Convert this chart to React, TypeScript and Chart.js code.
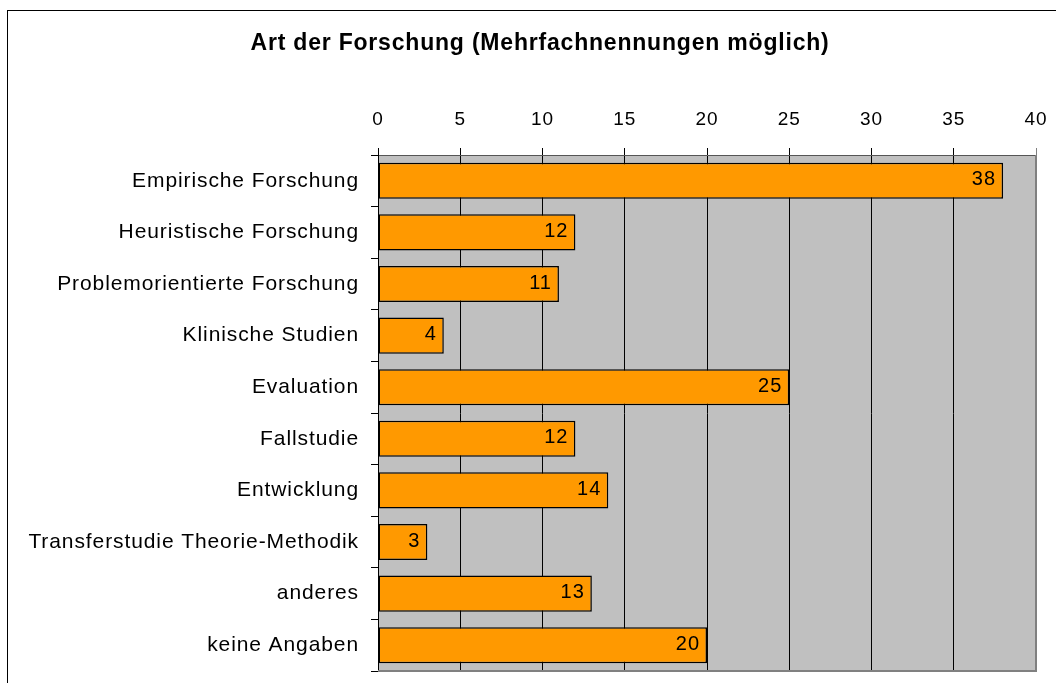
import React, { useEffect, useRef } from "react";
import { Chart, registerables } from "chart.js";

Chart.register(...registerables);

const chartTitle = "Art der Forschung (Mehrfachnennungen möglich)";
const categories = [
  "Empirische Forschung",
  "Heuristische Forschung",
  "Problemorientierte Forschung",
  "Klinische Studien",
  "Evaluation",
  "Fallstudie",
  "Entwicklung",
  "Transferstudie Theorie-Methodik",
  "anderes",
  "keine Angaben",
];
const counts = [38, 12, 11, 4, 25, 12, 14, 3, 13, 20];
const xMin = 0;
const xMax = 40;
const xStep = 5;

const FONT = "'Liberation Sans', Arial, sans-serif";

const plotBg = {
  id: "plotBg",
  beforeDraw(chart: any) {
    const { ctx, chartArea: a } = chart;
    ctx.letterSpacing = "0.9px";
    ctx.save();
    ctx.fillStyle = "#C0C0C0";
    ctx.fillRect(a.left, a.top, a.right - a.left, a.bottom - a.top);
    ctx.restore();
  },
  afterDraw(chart: any) {
    const { ctx, chartArea: a } = chart;
    ctx.save();
    ctx.strokeStyle = "#808080";
    ctx.lineWidth = 2;
    ctx.beginPath();
    ctx.moveTo(a.right, a.top);
    ctx.lineTo(a.right, a.bottom);
    ctx.lineTo(a.left, a.bottom);
    ctx.stroke();
    // title
    ctx.fillStyle = "#000";
    ctx.font = `bold 23px ${FONT}`;
    ctx.letterSpacing = "0.8px";
    ctx.textAlign = "center";
    ctx.textBaseline = "middle";
    ctx.fillText(chartTitle, 540, 44);
    ctx.restore();
  },
  afterDatasetsDraw(chart: any) {
    const { ctx } = chart;
    const meta = chart.getDatasetMeta(0);
    ctx.save();
    ctx.fillStyle = "#000";
    ctx.font = `20px ${FONT}`;
    ctx.letterSpacing = "1px";
    ctx.textAlign = "right";
    ctx.textBaseline = "middle";
    meta.data.forEach((bar: any, i: number) => {
      ctx.fillText(String(counts[i]), bar.x - 7, bar.y - 1);
    });
    ctx.restore();
  },
};

export default function App() {
  const ref = useRef<HTMLCanvasElement>(null);
  useEffect(() => {
    if (!ref.current) return;
    const chart = new Chart(ref.current, {
      type: "bar",
      data: {
        labels: categories,
        datasets: [
          {
            data: counts,
            backgroundColor: "#FF9900",
            borderColor: "#000000",
            borderWidth: 1.5,
            borderSkipped: false,
            categoryPercentage: 1,
            barPercentage: 0.7,
          },
        ],
      },
      options: {
        indexAxis: "y",
        animation: false,
        responsive: false,
        devicePixelRatio: 1,
        layout: { padding: { top: 110, right: 20, bottom: 12, left: 0 } },
        plugins: { legend: { display: false }, title: { display: false }, tooltip: { enabled: false } },
        scales: {
          x: {
            position: "top",
            min: xMin,
            max: xMax,
            ticks: {
              stepSize: xStep,
              color: "#000",
              font: { family: FONT, size: 19 },
              padding: 17,
            },
            grid: {
              color: (c: any) => (c.tick && c.tick.value === xMax ? "#808080" : "#000"),
              lineWidth: 1,
              tickLength: 7,
              drawTicks: true,
            },
            border: { display: true, color: "#555", width: 1 },
            afterFit: (s: any) => {
              s.height = 45;
              s.paddingLeft = 0;
              s.paddingRight = 0;
            },
          },
          y: {
            ticks: {
              color: "#000",
              font: { family: FONT, size: 21 },
              padding: 12,
            },
            grid: {
              offset: true,
              drawOnChartArea: false,
              color: "#000",
              tickLength: 7,
            },
            border: { display: true, color: "#000", width: 1 },
            afterFit: (s: any) => {
              s.width = 378;
              s.paddingTop = 0;
              s.paddingBottom = 0;
            },
          },
        },
      },
      plugins: [plotBg],
    });
    return () => chart.destroy();
  }, []);
  return (
    <div style={{ position: "fixed", left: 0, top: 0, width: 1056, height: 683, overflow: "hidden", background: "#fff" }}>
      <div
        style={{
          position: "absolute",
          left: 7,
          top: 10,
          width: 1100,
          height: 800,
          border: "1px solid #000",
        }}
      />
      <canvas ref={ref} width={1056} height={683} style={{ position: "absolute", left: 0, top: 0, width: 1056, height: 683 }} />
    </div>
  );
}
